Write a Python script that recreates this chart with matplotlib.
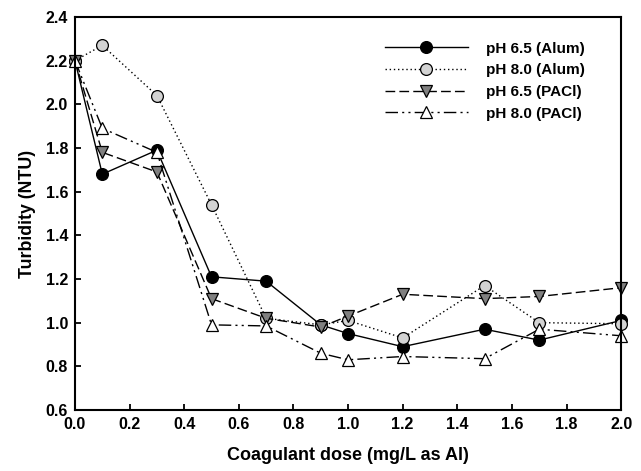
import numpy as np
import matplotlib.pyplot as plt

plt.rcParams['font.family'] = ['Liberation Sans', 'DejaVu Sans']
plt.rcParams['font.weight'] = 'bold'

dose = np.array([0.0, 0.1, 0.3, 0.5, 0.7, 0.9, 1.0, 1.2, 1.5, 1.7, 2.0])

alum_65 = [2.20, 1.68, 1.79, 1.21, 1.19, 0.99, 0.95, 0.89, 0.97, 0.92, 1.01]
alum_80 = [2.20, 2.27, 2.04, 1.54, 1.02, 0.99, 1.01, 0.93, 1.17, 1.00, 0.995]
pacl_65 = [2.20, 1.78, 1.69, 1.11, 1.02, 0.98, 1.03, 1.13, 1.11, 1.12, 1.16]
pacl_80 = [2.20, 1.89, 1.78, 0.99, 0.985, 0.86, 0.83, 0.845, 0.835, 0.97, 0.94]

fig = plt.figure(figsize=(6.41, 4.71), dpi=100)
ax = fig.add_axes([0.117, 0.1295, 0.852, 0.8345])

common = dict(color='black', lw=1.0, markersize=8.5, markeredgecolor='black',
              markeredgewidth=0.9, clip_on=False)
ax.plot(dose, alum_65, '-', marker='o', markerfacecolor='black',
        label='pH 6.5 (Alum)', **common)
ax.plot(dose, alum_80, linestyle=(0, (1, 2)), marker='o', markerfacecolor='#d3d3d3',
        label='pH 8.0 (Alum)', **common)
ax.plot(dose, pacl_65, linestyle=(0, (7, 3)), marker='v', markerfacecolor='#808080',
        label='pH 6.5 (PACl)', **common)
ax.plot(dose, pacl_80, linestyle=(0, (9, 3, 1.5, 3, 1.5, 3)), marker='^',
        markerfacecolor='white', label='pH 8.0 (PACl)', **common)

ax.set_xlim(0, 2.0)
ax.set_ylim(0.6, 2.4)
ax.set_xticks(np.arange(0, 2.01, 0.2))
ax.set_yticks(np.arange(0.6, 2.41, 0.2))
ax.xaxis.set_major_formatter(plt.FormatStrFormatter('%.1f'))
ax.yaxis.set_major_formatter(plt.FormatStrFormatter('%.1f'))
ax.tick_params(direction='in', length=4.5, width=1.3, labelsize=11.5, pad=5)
for s in ax.spines.values():
    s.set_linewidth(1.5)

ax.set_xlabel('Coagulant dose (mg/L as Al)', fontsize=13, fontweight='bold', labelpad=11)
ax.set_ylabel('Turbidity (NTU)', fontsize=12.8, fontweight='bold', labelpad=7)

ax.legend(loc='upper left', bbox_to_anchor=(0.568, 0.937), frameon=False,
          borderaxespad=0, borderpad=0, handlelength=5.4, fontsize=11,
          labelspacing=0.5, handletextpad=1.2)

fig.savefig('out.png', dpi=100)
